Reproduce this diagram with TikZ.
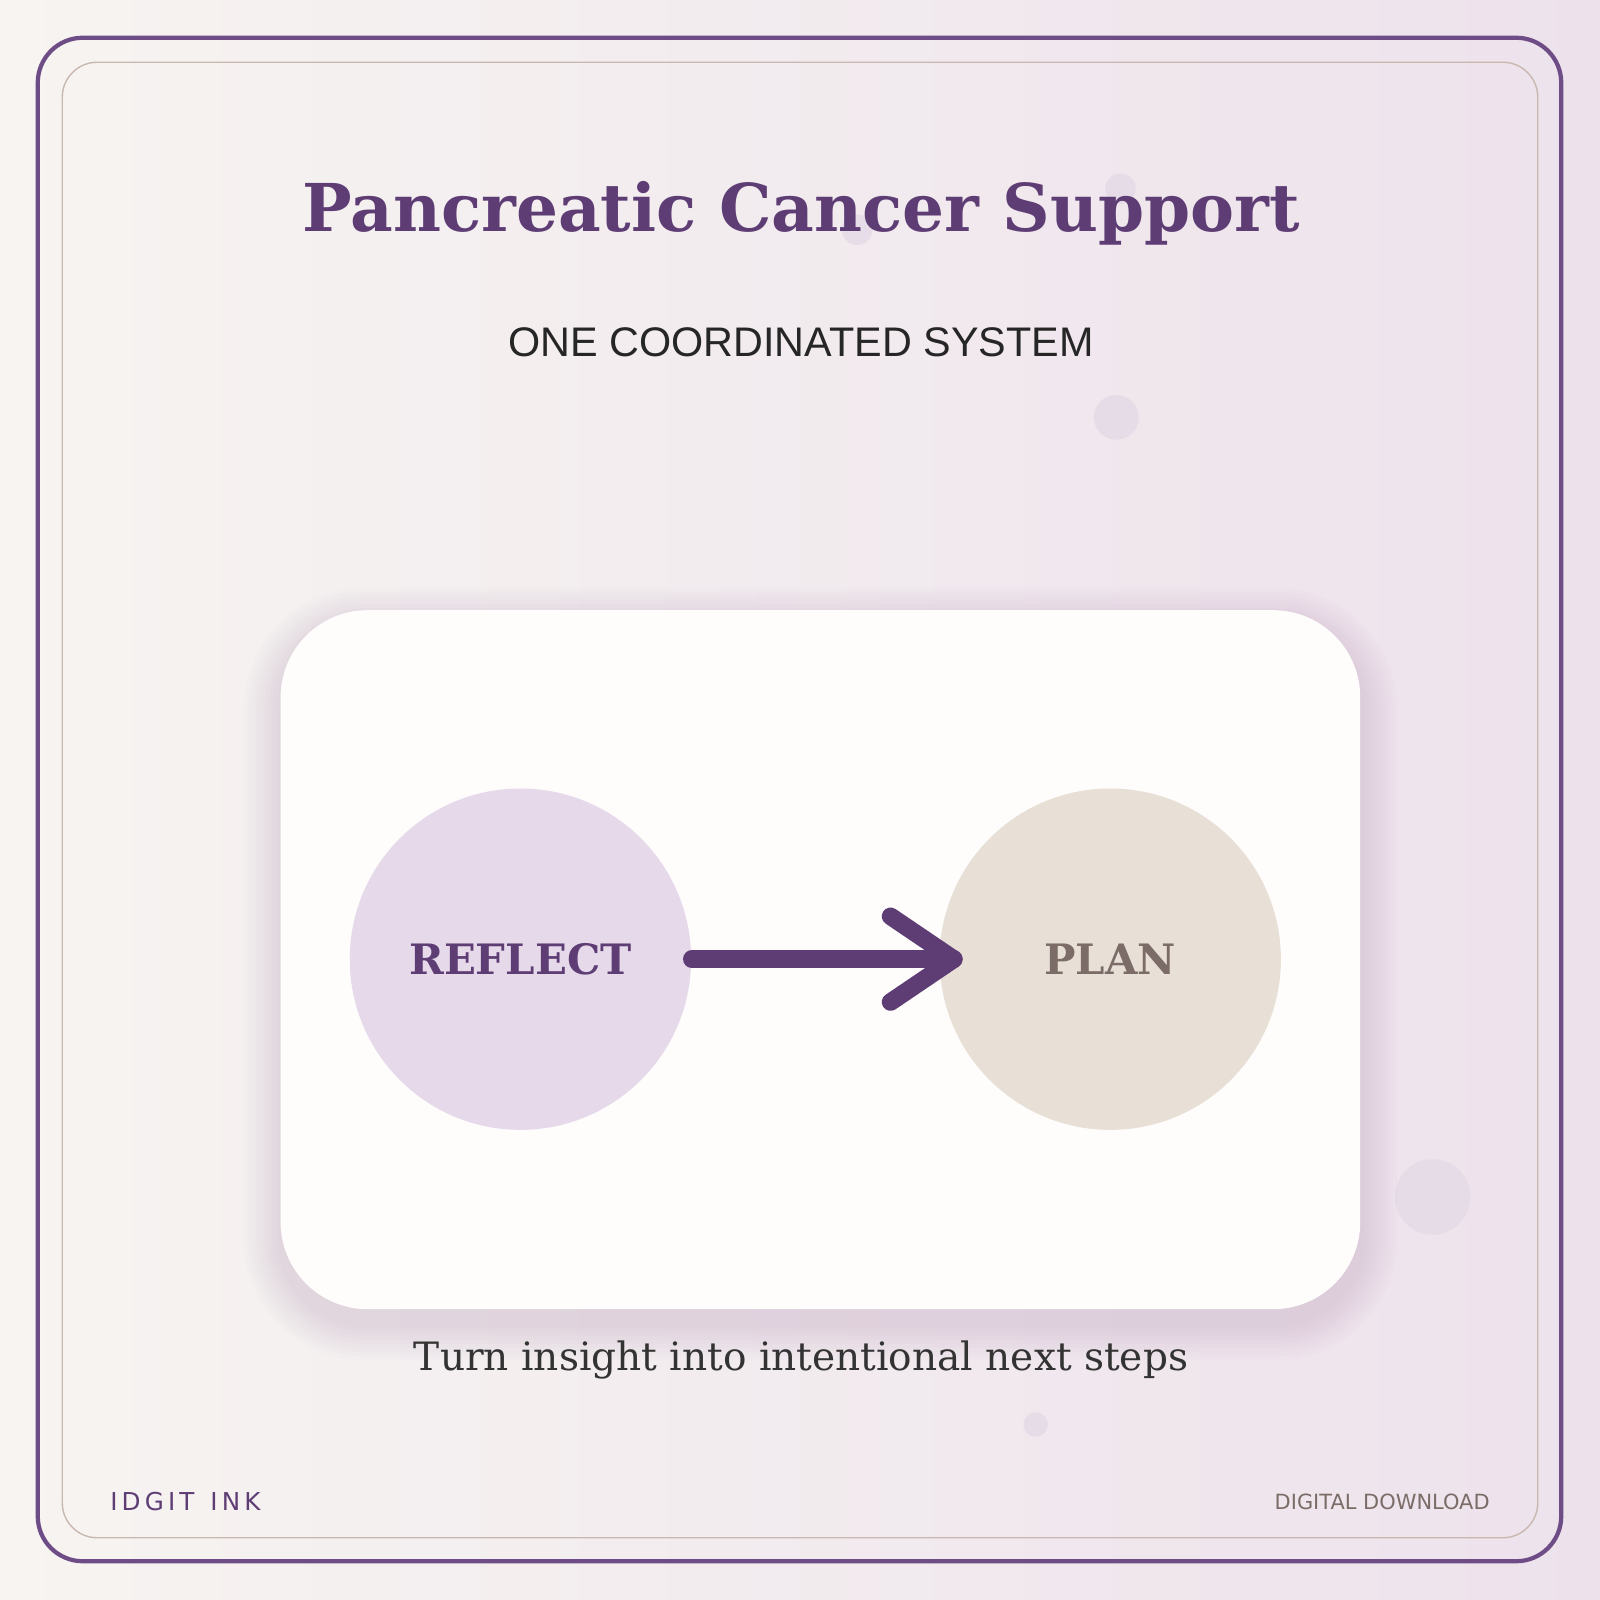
\documentclass[tikz,border=0pt]{standalone}
\usepackage{fontspec}
\setmainfont{DejaVu Serif}
\setsansfont{Liberation Sans}
\newfontfamily\dvs{DejaVu Sans}
\definecolor{plum}{HTML}{5E3D75}
\definecolor{framec}{HTML}{6E4C86}
\definecolor{tan}{HTML}{C9B8B0}
\definecolor{bgA}{HTML}{F7F4F1}
\definecolor{bgB}{HTML}{EDE2EC}
\definecolor{dot}{HTML}{E4DAE7}
\definecolor{lav}{HTML}{E5D9EA}
\definecolor{beige}{HTML}{E8DFD7}
\definecolor{planc}{HTML}{7B6C68}
\definecolor{cardc}{HTML}{FEFDFC}
\definecolor{shad}{HTML}{9A7FA8}
\tikzset{
  x=0.0102cm,y=-0.0102cm,
  deco/.style={fill=dot,draw=none},
  stage/.style={circle,minimum size=3.41cm,inner sep=0pt,font=\bfseries\fontsize{11.9}{13}\selectfont},
}
\begin{document}
\begin{tikzpicture}
\useasboundingbox (0,0) rectangle (1568,1568);
\clip (0,0) rectangle (1568,1568);
\shade[left color=bgA,right color=bgB] (0,0) rectangle (1568,1568);
\draw[framec,line width=1.2pt,rounded corners=0.45cm] (37,37) rectangle (1530,1530);
\draw[tan,line width=0.4pt,rounded corners=0.35cm] (61,61) rectangle (1507,1507);
\foreach \x/\y/\r in {1098/185/15,840/225/15,1094/409/22,1404/1173/37,1015/1396/12}
  \fill[deco,opacity=0.8] (\x,\y) circle[radius=\r];
\node[text=plum,font=\bfseries\fontsize{18.75}{22}\selectfont] (title) at (785,209) {Pancreatic Cancer Support};
\node[text=black!85,font=\sffamily\fontsize{11.75}{14}\selectfont] (sub) at (785,335) {ONE COORDINATED SYSTEM};
\foreach \d in {4,8,...,36}
  \fill[shad,opacity=0.025,rounded corners={0.85cm+\d*0.01cm}] (275-\d,598-\d+14) rectangle (1333+\d,1283+\d+14);
\fill[cardc,rounded corners=0.87cm] (275,598) rectangle (1333,1283);
\node[stage,fill=lav,text=plum] (reflect) at (510,940) {REFLECT};
\node[stage,fill=beige,text=planc] (plan) at (1088,940) {PLAN};
\coordinate (tip) at ([xshift=0.15cm]plan.west);
\draw[plum,line width=5pt,line cap=round,line join=round] (reflect.east) -- (tip);
\draw[plum,line width=5pt,line cap=round,line join=round] ([shift={(-62,-42)}]tip) -- (tip) -- ([shift={(-62,42)}]tip);
\node[text=black!80,font=\fontsize{11.1}{13}\selectfont] (cap) at (785,1333) {Turn insight into intentional next steps};
\node[anchor=west,text=plum,font=\dvs\fontsize{7}{8}\selectfont] (brand) at (96,1471) {I\,D\,G\,I\,T\, \,I\,N\,K};
\node[anchor=east,text=planc,font=\dvs\fontsize{5.95}{7}\selectfont] (dl) at (1472,1472) {DIGITAL DOWNLOAD};
\end{tikzpicture}
\end{document}
